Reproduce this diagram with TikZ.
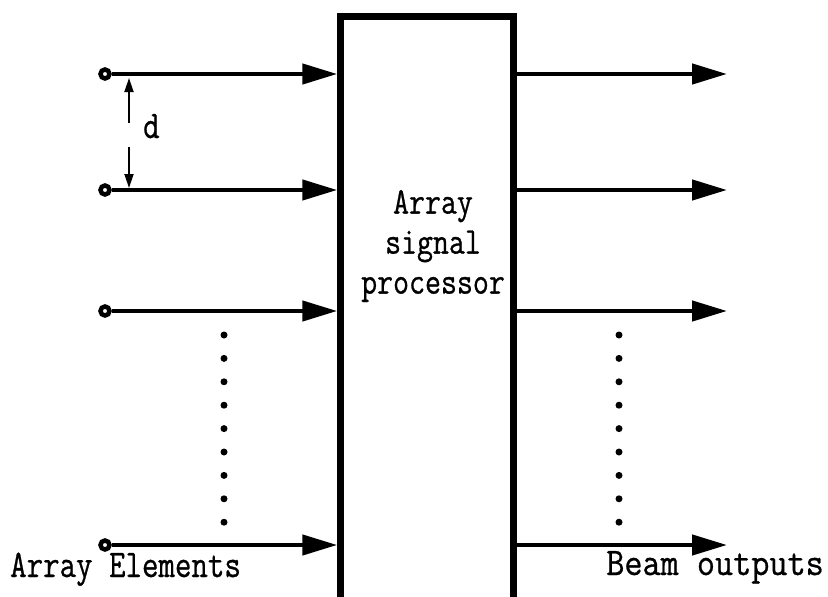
\documentclass[tikz,border=0pt]{standalone}
\usepackage{fontspec}
\usetikzlibrary{arrows.meta}
\newfontfamily\lblfont[FakeBold=0.8]{Latin Modern Mono}
\newcommand\tallt[1]{\scalebox{1}[1.22]{#1}}
\newcommand\widet[1]{\scalebox{1.1}[1.22]{#1}}
\begin{document}
\begin{tikzpicture}[x=1pt,y=-1pt,
  sig/.style={line width=4.5pt, -{Triangle[length=35pt,width=20pt]}},
  port/.style={circle, draw, line width=4.5pt, fill=white, inner sep=0pt, minimum size=9pt},
  dimarrow/.style={line width=1.8pt, -{Triangle[length=14pt,width=9pt]}},
  lbl/.style={font=\lblfont\fontsize{32}{40}\selectfont, inner sep=0pt},
  dotm/.style={circle, fill, inner sep=0pt, minimum size=7pt},
  procbox/.style={draw, line width=7pt, minimum width=172.5pt, minimum height=640pt, inner sep=0pt}]
\useasboundingbox (0,0) rectangle (828,597);
\clip (0,0) rectangle (828,597);
% processor box (open at the bottom, runs off the picture)
\node[procbox, anchor=north] (asp) at (427,13) {};
\node[lbl, align=center, font=\lblfont\fontsize{31}{40}\selectfont] (asptext) at (433,246) {\tallt{Array}\\\tallt{signal}\\\tallt{processor}};
% inputs and outputs
\foreach \i/\y in {1/74, 2/190, 3/311, 4/545} {
  \node[port] (in\i) at (105,\y) {};
  \coordinate (out\i) at (727,\y);
  \draw[sig] (in\i.east) -- (in\i -| asp.west);
  \draw[sig] (in\i -| asp.east) -- (out\i);
}
% spacing d
\node[lbl, anchor=base west] (dl) at (143,138) {\tallt{d}};
\coordinate (dtop) at (129,78);
\coordinate (dbot) at (129,188);
\coordinate (dm1) at (129,123);
\coordinate (dm2) at (129,147);
\draw[dimarrow] (dm1) -- (dtop);
\draw[dimarrow] (dm2) -- (dbot);
% dots
\foreach \k in {0,...,8} {
  \node[dotm] (ld\k) at (224,335+23.4*\k) {};
  \node[dotm] (rd\k) at (619,335+23.4*\k) {};
}
% labels
\node[lbl, anchor=base west] (ae) at (10,577) {\tallt{Array Elements}};
\node[lbl, anchor=base east] (bo) at (824,575) {\widet{Beam outputs}};
\end{tikzpicture}
\end{document}
